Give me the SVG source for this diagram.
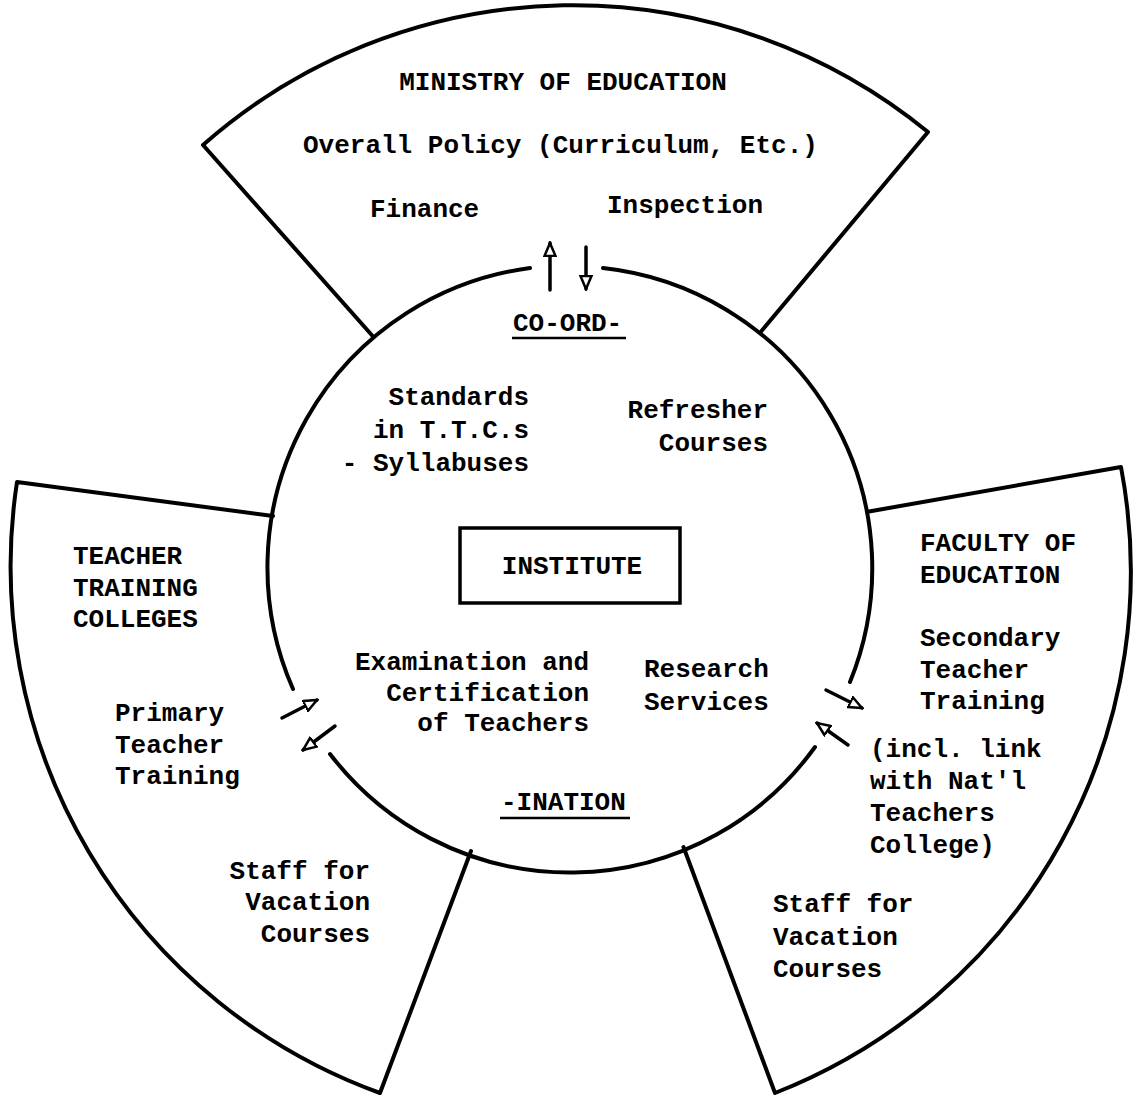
<svg xmlns="http://www.w3.org/2000/svg" width="1136" height="1096" viewBox="0 0 1136 1096">
<style>
.bg{fill:#fff}
.ln{fill:none;stroke:#000;stroke-width:4;stroke-linecap:round;stroke-linejoin:round}
.t{font-family:"Liberation Mono","Courier New",monospace;font-size:26px;font-weight:bold;fill:#000}
.e{text-anchor:end}
.m{text-anchor:middle}
.ul{stroke:#000;stroke-width:2.5}
.ar{fill:none;stroke:#000;stroke-width:3.5;stroke-linecap:round;marker-end:url(#ah)}
.box{fill:none;stroke:#000;stroke-width:3.5}
</style>
<defs>
<marker id="ah" markerUnits="userSpaceOnUse" markerWidth="16" markerHeight="14" viewBox="0 0 16 14" refX="14" refY="7" orient="auto">
<path d="M1,1.5 L14,7 L1,12.5 Z" fill="#fff" stroke="#000" stroke-width="2.5"/>
</marker>
</defs>
<rect class="bg" x="0" y="0" width="1136" height="1096"/>

<g id="ministry">
<path class="ln" d="M373.5,337 L203,145 A560,560 0 0 1 928,132 L761.5,331"/>
<text class="t m" x="563" y="90">MINISTRY OF EDUCATION</text>
<text class="t" x="303" y="153">Overall Policy (Curriculum, Etc.)</text>
<text class="t" x="370" y="217">Finance</text>
<text class="t" x="607" y="213">Inspection</text>
</g>

<g id="teacher-training-colleges">
<path class="ln" d="M273,516 L17,482 A560,560 0 0 0 380,1093 L471,851"/>
<text class="t"><tspan x="73" y="564">TEACHER</tspan><tspan x="73" y="596">TRAINING</tspan><tspan x="73" y="627">COLLEGES</tspan></text>
<text class="t"><tspan x="115" y="721">Primary</tspan><tspan x="115" y="753">Teacher</tspan><tspan x="115" y="784">Training</tspan></text>
<text class="t e"><tspan x="370" y="879">Staff for</tspan><tspan x="370" y="910">Vacation</tspan><tspan x="370" y="942">Courses</tspan></text>
</g>

<g id="faculty-of-education">
<path class="ln" d="M869,511.5 L1121,467 A560,560 0 0 1 775,1093 L683.5,847"/>
<text class="t"><tspan x="920" y="551">FACULTY OF</tspan><tspan x="920" y="583">EDUCATION</tspan></text>
<text class="t"><tspan x="920" y="646">Secondary</tspan><tspan x="920" y="678">Teacher</tspan><tspan x="920" y="709">Training</tspan></text>
<text class="t"><tspan x="870" y="757">(incl. link</tspan><tspan x="870" y="789">with Nat'l</tspan><tspan x="870" y="821">Teachers</tspan><tspan x="870" y="853">College)</tspan></text>
<text class="t"><tspan x="773" y="912">Staff for</tspan><tspan x="773" y="945">Vacation</tspan><tspan x="773" y="977">Courses</tspan></text>
</g>

<g id="institute">
<path class="ln" d="M530,268 A302,302 0 0 0 293,689"/>
<path class="ln" d="M330,754 A302,302 0 0 0 815,747"/>
<path class="ln" d="M850,682 A302,302 0 0 0 603,268"/>
<text class="t" x="513" y="331">CO-ORD-</text>
<line class="ul" x1="512" y1="338" x2="626" y2="338"/>
<text class="t e"><tspan x="529" y="405">Standards</tspan><tspan x="529" y="438">in T.T.C.s</tspan><tspan x="529" y="471">- Syllabuses</tspan></text>
<text class="t e"><tspan x="768" y="418">Refresher</tspan><tspan x="768" y="451">Courses</tspan></text>
<rect class="box" x="460" y="528" width="220" height="75"/>
<text class="t m" x="572" y="574">INSTITUTE</text>
<text class="t e"><tspan x="589" y="670">Examination and</tspan><tspan x="589" y="701">Certification</tspan><tspan x="589" y="731">of Teachers</tspan></text>
<text class="t"><tspan x="644" y="677">Research</tspan><tspan x="644" y="710">Services</tspan></text>
<text class="t" x="501" y="810">-INATION</text>
<line class="ul" x1="500" y1="818" x2="630" y2="818"/>
</g>

<g id="connectors">
<line class="ar" x1="550" y1="290" x2="550" y2="243"/>
<line class="ar" x1="586" y1="247" x2="586" y2="289"/>
<line class="ar" x1="282" y1="718" x2="317" y2="700"/>
<line class="ar" x1="335" y1="726" x2="303" y2="750"/>
<line class="ar" x1="826" y1="690" x2="862" y2="708"/>
<line class="ar" x1="848" y1="745" x2="817" y2="723"/>
</g>
</svg>
